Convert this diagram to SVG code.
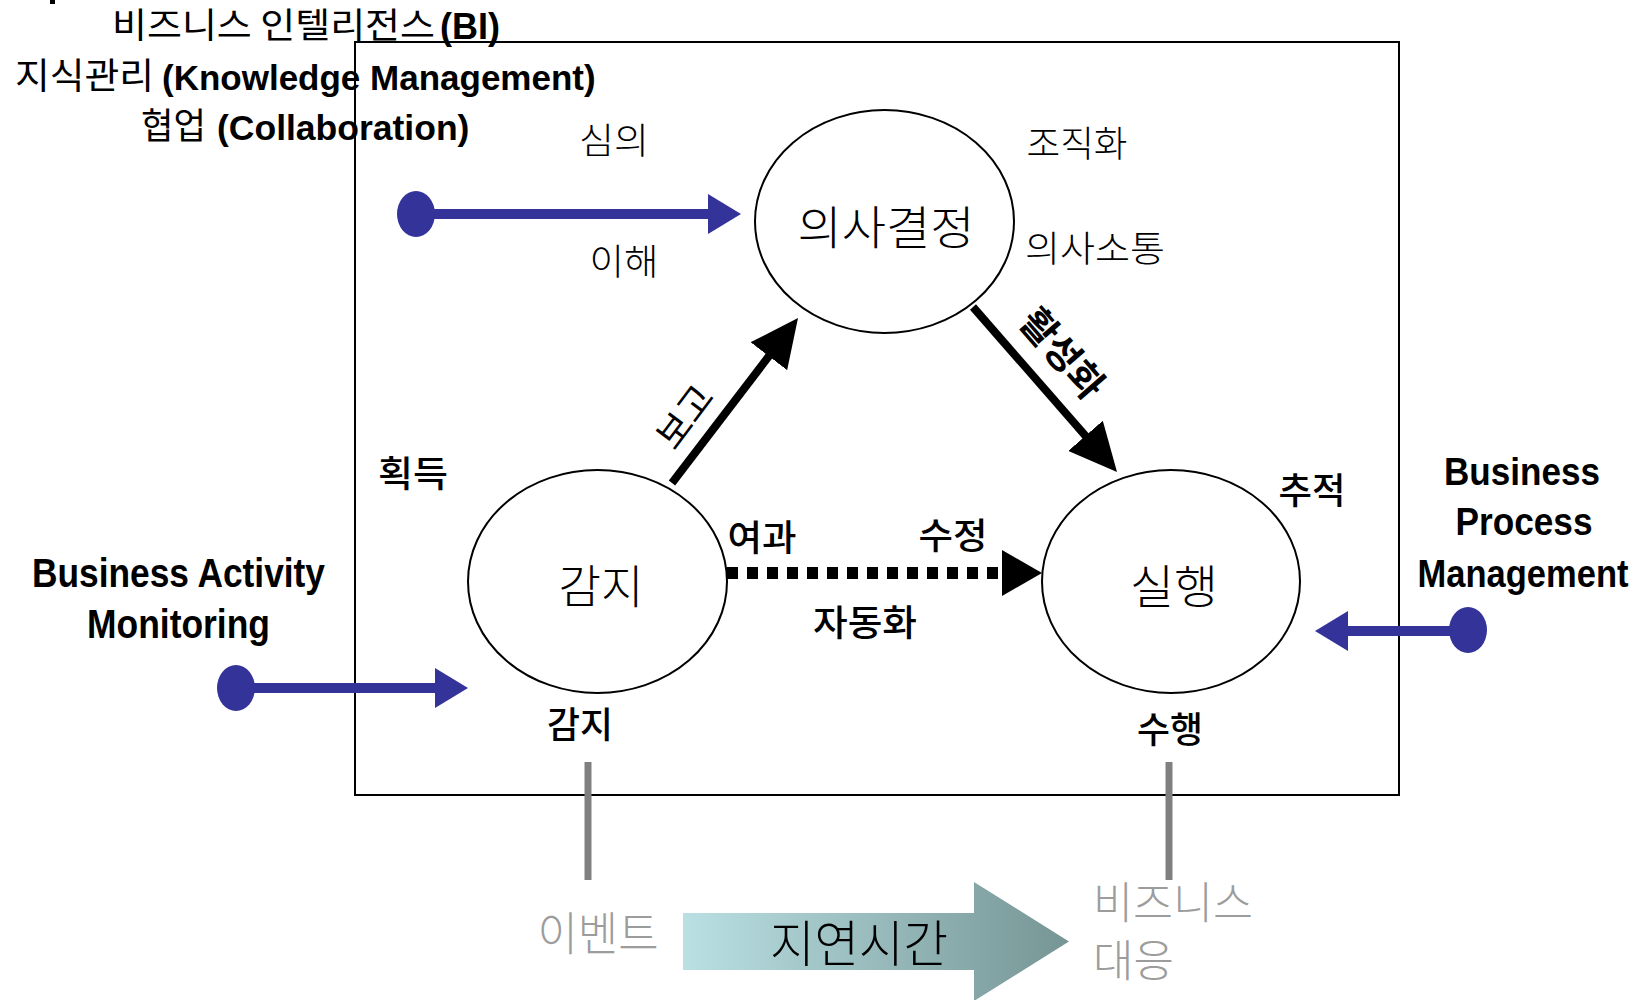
<svg xmlns="http://www.w3.org/2000/svg" width="1643" height="1000" viewBox="0 0 1643 1000">
<style>
.ko{font-family:"Noto Sans CJK KR","Noto Sans",sans-serif;font-weight:300;fill:#000}
.kr{font-family:"Noto Sans CJK KR","Noto Sans",sans-serif;font-weight:400;fill:#000}
.km{font-family:"Noto Sans CJK KR","Noto Sans",sans-serif;font-weight:500;fill:#000}
.kb{font-family:"Noto Sans CJK KR","Noto Sans",sans-serif;font-weight:700;fill:#000}
.en{font-family:"Liberation Sans",Arial,sans-serif;font-weight:700;fill:#000}
.gr{fill:#9C9C9C}
.mid{text-anchor:middle}
.node{fill:#fff;stroke:#000;stroke-width:2}
.blk{stroke:#000;stroke-width:8;fill:none}
.blue{stroke:#333399;stroke-width:10;fill:none}
.dot{fill:#333399}
.tick{stroke:#808080;stroke-width:7}
</style>
<defs>
<marker id="hBlack" markerUnits="userSpaceOnUse" markerWidth="48" markerHeight="46" viewBox="0 0 48 46" refX="18" refY="23" orient="auto">
<path d="M0,0 L48,23 L0,46 z" fill="#000"/>
</marker>
<marker id="hDash" markerUnits="userSpaceOnUse" markerWidth="40" markerHeight="46" viewBox="0 0 40 46" refX="0" refY="23" orient="auto">
<path d="M0,0 L40,23 L0,46 z" fill="#000"/>
</marker>
<marker id="hBlue" markerUnits="userSpaceOnUse" markerWidth="33" markerHeight="40" viewBox="0 0 33 40" refX="0" refY="20" orient="auto">
<path d="M0,0 L33,20 L0,40 z" fill="#333399"/>
</marker>
<linearGradient id="gArrow" x1="683" y1="0" x2="1069" y2="0" gradientUnits="userSpaceOnUse">
<stop offset="0" stop-color="#BAE0E3"/>
<stop offset="1" stop-color="#769595"/>
</linearGradient>
</defs>
<rect width="1643" height="1000" fill="#fff"/>
<rect x="50" y="0" width="5" height="4" fill="#000"/>

<g id="titles">
<text class="kr" x="112" y="38" font-size="35" textLength="323" lengthAdjust="spacingAndGlyphs">비즈니스 인텔리전스</text>
<text class="en" x="440" y="39" font-size="36">(BI)</text>
<text class="kr" x="15" y="89" font-size="36" textLength="139" lengthAdjust="spacingAndGlyphs">지식관리</text>
<text class="en" x="162" y="90" font-size="35">(Knowledge Management)</text>
<text class="kr" x="141" y="139" font-size="36" textLength="65" lengthAdjust="spacingAndGlyphs">협업</text>
<text class="en" x="217" y="140" font-size="35.5">(Collaboration)</text>
</g>

<rect id="frame" x="355" y="42" width="1044" height="753" fill="none" stroke="#000" stroke-width="2"/>

<g id="connectors">
<line class="blk" x1="672" y1="483" x2="779.8" y2="341.9" marker-end="url(#hBlack)"/>
<line class="blk" x1="973" y1="307" x2="1097.3" y2="449.4" marker-end="url(#hBlack)"/>
<line stroke="#000" stroke-width="12" stroke-dasharray="11 9" x1="727" y1="573" x2="1002" y2="573" marker-end="url(#hDash)"/>
<line class="blue" x1="416" y1="214" x2="708" y2="214" marker-end="url(#hBlue)"/>
<ellipse class="dot" cx="416" cy="214" rx="19" ry="23"/>
<line class="blue" x1="236" y1="688" x2="435" y2="688" marker-end="url(#hBlue)"/>
<ellipse class="dot" cx="236" cy="688" rx="19" ry="23"/>
<line class="blue" x1="1468" y1="631" x2="1348" y2="631" marker-end="url(#hBlue)"/>
<ellipse class="dot" cx="1468" cy="630" rx="19" ry="23"/>
<line class="tick" x1="588" y1="762" x2="588" y2="880"/>
<line class="tick" x1="1169" y1="762" x2="1169" y2="880"/>
</g>

<g id="node-decision">
<ellipse class="node" cx="884.5" cy="221.5" rx="129.5" ry="111.5"/>
<text class="ko mid" x="886" y="243.5" font-size="46" textLength="177" lengthAdjust="spacingAndGlyphs">의사결정</text>
</g>
<g id="node-sense">
<ellipse class="node" cx="597.5" cy="581.5" rx="129.5" ry="111.5"/>
<text class="ko mid" x="601" y="602.5" font-size="46" textLength="85" lengthAdjust="spacingAndGlyphs">감지</text>
</g>
<g id="node-exec">
<ellipse class="node" cx="1171" cy="581.5" rx="129" ry="111.5"/>
<text class="ko mid" x="1174" y="602.5" font-size="46" textLength="88" lengthAdjust="spacingAndGlyphs">실행</text>
</g>

<g id="labels">
<text class="ko mid" x="614" y="154" font-size="36" textLength="70" lengthAdjust="spacingAndGlyphs">심의</text>
<text class="ko mid" x="624" y="275" font-size="36" textLength="69" lengthAdjust="spacingAndGlyphs">이해</text>
<text class="ko mid" x="1077" y="157" font-size="36" textLength="101" lengthAdjust="spacingAndGlyphs">조직화</text>
<text class="ko mid" x="1095" y="262" font-size="36" textLength="140" lengthAdjust="spacingAndGlyphs">의사소통</text>
<text class="km mid" x="413" y="487" font-size="36" textLength="70" lengthAdjust="spacingAndGlyphs">획득</text>
<text class="km mid" x="1312" y="504" font-size="36" textLength="67" lengthAdjust="spacingAndGlyphs">추적</text>
<text class="km mid" x="762" y="551" font-size="36" textLength="69" lengthAdjust="spacingAndGlyphs">여과</text>
<text class="km mid" x="953" y="549" font-size="36" textLength="69" lengthAdjust="spacingAndGlyphs">수정</text>
<text class="km mid" x="865" y="636" font-size="36" textLength="104" lengthAdjust="spacingAndGlyphs">자동화</text>
<text class="km mid" x="580" y="738" font-size="36" textLength="66" lengthAdjust="spacingAndGlyphs">감지</text>
<text class="km mid" x="1170" y="743" font-size="36" textLength="66" lengthAdjust="spacingAndGlyphs">수행</text>
<text class="kr mid" transform="translate(685,417) rotate(-53)" x="0" y="13" font-size="37">보고</text>
<text class="kb mid" transform="translate(1062,354) rotate(49)" x="0" y="13" font-size="38">활성화</text>
</g>

<g id="bam">
<text class="en mid" x="178.5" y="587" font-size="40" textLength="293" lengthAdjust="spacingAndGlyphs">Business Activity</text>
<text class="en mid" x="178.5" y="638" font-size="40" textLength="183" lengthAdjust="spacingAndGlyphs">Monitoring</text>
</g>
<g id="bpm">
<text class="en mid" x="1522" y="485" font-size="39" textLength="156" lengthAdjust="spacingAndGlyphs">Business</text>
<text class="en mid" x="1524" y="535" font-size="39" textLength="137" lengthAdjust="spacingAndGlyphs">Process</text>
<text class="en mid" x="1523" y="587" font-size="39" textLength="211" lengthAdjust="spacingAndGlyphs">Management</text>
</g>

<g id="latency">
<polygon points="683,913 974,913 974,882 1069,941.5 974,1001 974,970 683,970" fill="url(#gArrow)"/>
<text class="ko mid" x="859" y="962" font-size="50" textLength="178" lengthAdjust="spacingAndGlyphs">지연시간</text>
</g>
<g id="event">
<text class="ko mid gr" x="598" y="950" font-size="46" textLength="121" lengthAdjust="spacingAndGlyphs">이벤트</text>
</g>
<g id="response">
<text class="ko gr" x="1093" y="919" font-size="44" textLength="160" lengthAdjust="spacingAndGlyphs">비즈니스</text>
<text class="ko gr" x="1093" y="977" font-size="44" textLength="81" lengthAdjust="spacingAndGlyphs">대응</text>
</g>
</svg>
